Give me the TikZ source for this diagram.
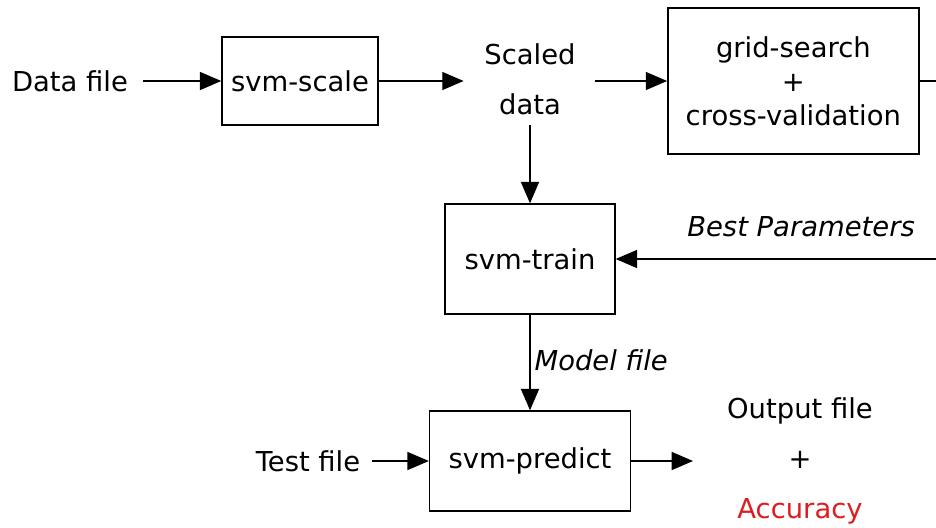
\documentclass[tikz,border=0pt]{standalone}
\usepackage{fontspec}
\setmainfont{DejaVu Sans}
\usepackage{tikz}
\usepackage{xcolor}
\usetikzlibrary{arrows.meta, positioning}
\definecolor{accred}{RGB}{220,30,30}
\tikzstyle{process} = [rectangle, text centered, align=center, draw=black, fill=none, line width=1.2pt, inner sep=0pt]
\tikzstyle{plain} = [text centered, align=center]
\tikzstyle{arrow} = [line width=1.2pt,->,>={Triangle[length=0.64cm,width=0.54cm]}]

\begin{document}
\begin{tikzpicture}[node distance=2cm, font=\fontsize{23.4}{29}\selectfont]
        \useasboundingbox (-9,2.43) rectangle (19.08,-13.38);
        \node (scale) [process, minimum width=4.68cm, minimum height=2.64cm] {svm-scale};
        \node (datafile) [plain, left of=scale, xshift=-4.9cm] {Data file};
        \node (scaled) [plain, right of=scale, xshift=4.9cm, yshift=0.06cm] {Scaled\\[13.6pt]data};
        \node (grid) [process, right of=scaled, xshift=5.9cm, yshift=-0.06cm, minimum width=7.53cm, minimum height=4.38cm] {grid-search\\+\\cross-validation};
        \node (train) [process, below of=scaled, yshift=-3.4cm, minimum width=5.1cm, minimum height=3.3cm] {svm-train};
        \node (predict) [process, below of=train, yshift=-4.06cm, minimum width=6.03cm, minimum height=3cm] {svm-predict};
        \node (testfile) [plain, left of=predict, xshift=-4.66cm] {Test file};
        \node (output) [plain, right of=predict, xshift=6.1cm] {Output file\\[13.6pt]+\\[13.6pt]\textcolor{accred}{Accuracy}};
        \coordinate (turn) at ([xshift=1.5cm]grid.east);


        \draw [arrow, shorten <=0.33cm] (datafile) -- (scale);
        \draw [arrow, shorten >=0.5cm] (scale) -- (scale -| scaled.west);
        \draw [arrow, shorten <=0.45cm] (grid -| scaled.east) -- (grid);
        \draw [arrow, shorten <=0.2cm] (scaled) -- (train);
        \draw [arrow] (grid.east) -- (turn) |- node[pos=0.738, above, yshift=0.54cm] {\itshape Best Parameters} (train.east);
        \draw [arrow] (train) -- node[anchor=west, yshift=0.06cm] {\itshape Model file} (predict);
        \draw [arrow, shorten <=0.24cm] (testfile) -- (predict);
        \draw [arrow, shorten >=0.9cm] (predict) -- (output);


    \end{tikzpicture}
\end{document}
